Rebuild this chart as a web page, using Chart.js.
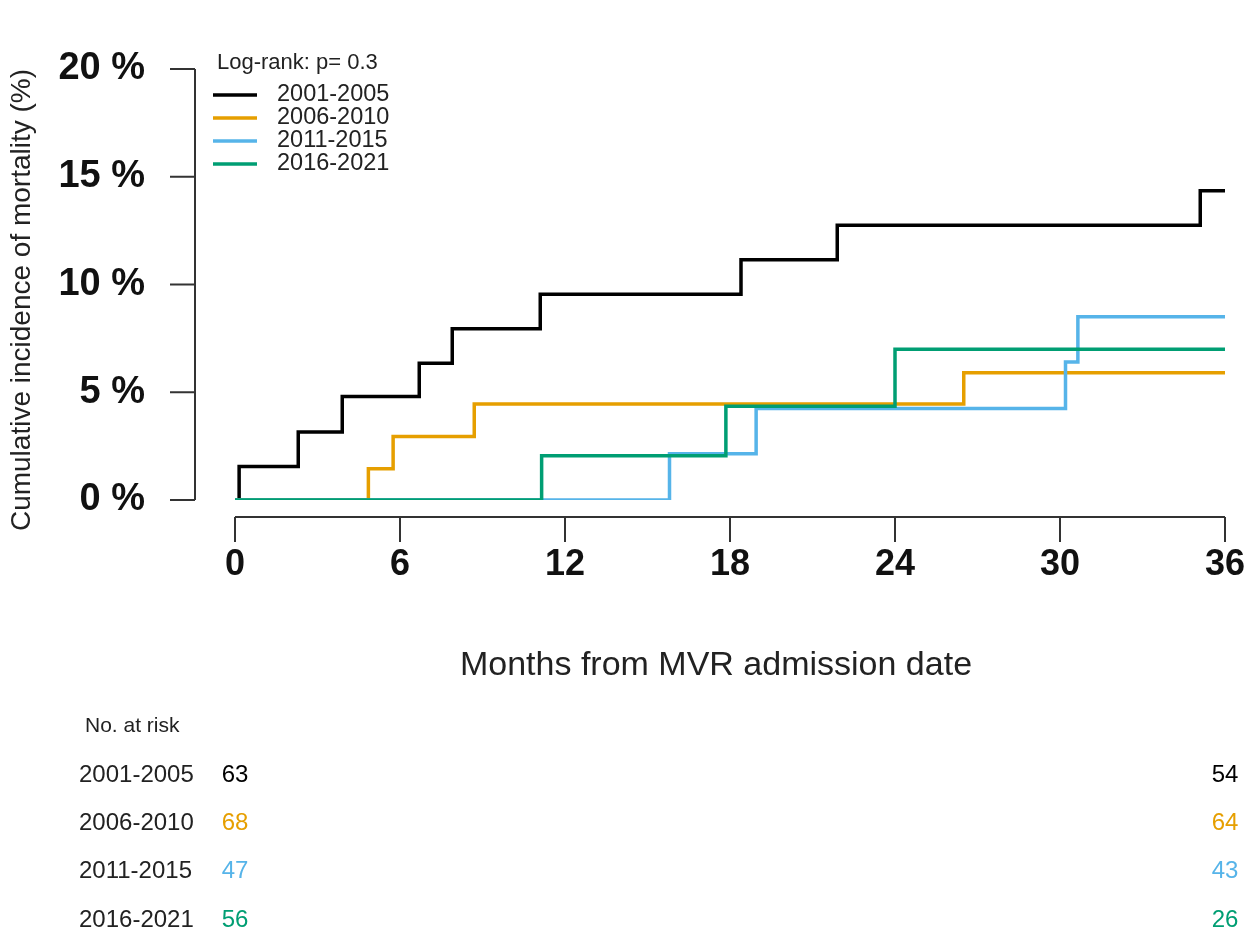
<!DOCTYPE html>
<html>
<head>
<meta charset="utf-8">
<script src="https://cdn.jsdelivr.net/npm/chart.js@4/dist/chart.umd.min.js"></script>
<style>
  html, body { margin: 0; padding: 0; background: #fff; }
  #wrap { width: 1250px; height: 932px; }
</style>
</head>
<body>
<div id="wrap"><canvas id="km"></canvas></div>
<script>
// step times (months) and cumulative incidence (%)
const groups = ["2001-2005", "2006-2010", "2011-2015", "2016-2021"];
const colors = ["#000000", "#E69F00", "#56B4E9", "#009E73"];

const time2001 = [0, 0.15, 2.3, 3.9, 6.7, 7.9, 11.1, 18.4, 21.9, 35.1, 36];
const inc2001 = [0, 1.55, 3.15, 4.8, 6.35, 7.95, 9.55, 11.15, 12.75, 14.35, 14.35];
const time2006 = [0, 4.85, 5.75, 8.7, 26.5, 36];
const inc2006 = [0, 1.45, 2.95, 4.45, 5.9, 5.9];
const time2011 = [0, 15.8, 18.95, 30.2, 30.65, 36];
const inc2011 = [0, 2.15, 4.25, 6.4, 8.5, 8.5];
const time2016 = [0, 11.15, 17.85, 24.0, 36];
const inc2016 = [0, 2.05, 4.35, 7.0, 7.0];

const xTicks = [0, 6, 12, 18, 24, 30, 36];
const yTicks = [0, 5, 10, 15, 20];

const riskStart = [63, 68, 47, 56];
const riskEnd = [54, 64, 43, 26];

const FONT = "'Liberation Sans', Arial, Helvetica, sans-serif";

function toPoints(times, values) {
  return times.map((t, i) => ({ x: t, y: values[i] }));
}

const allTimes = [time2001, time2006, time2011, time2016];
const allInc = [inc2001, inc2006, inc2011, inc2016];

const datasets = groups.map((g, i) => ({
  label: g,
  data: toPoints(allTimes[i], allInc[i]),
  borderColor: colors[i],
  borderWidth: 3.5,
  stepped: "before",
  pointRadius: 0,
  fill: false,
  order: groups.length - i,
}));

// R-style detached axes, titles, inset legend and risk table
const decorations = {
  id: "decorations",
  afterDraw(chart) {
    const ctx = chart.ctx;
    const xs = chart.scales.x;
    const ys = chart.scales.y;
    const area = chart.chartArea;
    ctx.save();
    ctx.strokeStyle = "#333";
    ctx.lineWidth = 2;
    ctx.lineCap = "butt";

    // y axis
    const axX = area.left - 40;
    ctx.beginPath();
    ctx.moveTo(axX, ys.getPixelForValue(0));
    ctx.lineTo(axX, ys.getPixelForValue(20));
    yTicks.forEach((v) => {
      const py = ys.getPixelForValue(v);
      ctx.moveTo(axX, py);
      ctx.lineTo(axX - 25, py);
    });
    ctx.stroke();

    // x axis
    const axY = area.bottom + 17;
    ctx.beginPath();
    ctx.moveTo(xs.getPixelForValue(0), axY);
    ctx.lineTo(xs.getPixelForValue(36), axY);
    xTicks.forEach((v) => {
      const px = xs.getPixelForValue(v);
      ctx.moveTo(px, axY);
      ctx.lineTo(px, axY + 25);
    });
    ctx.stroke();

    // axis titles
    ctx.fillStyle = "#222";
    ctx.textAlign = "center";
    ctx.textBaseline = "middle";
    ctx.font = `28px ${FONT}`;
    ctx.save();
    ctx.translate(22, 300);
    ctx.rotate(-Math.PI / 2);
    ctx.fillText("Cumulative incidence of mortality (%)", 0, 0);
    ctx.restore();
    ctx.font = `34px ${FONT}`;
    ctx.fillText("Months from MVR admission date", 716, 666);

    // legend
    ctx.textAlign = "left";
    ctx.font = `22px ${FONT}`;
    ctx.fillStyle = "#222";
    ctx.fillText("Log-rank: p= 0.3", 217, 63);
    ctx.font = `23.5px ${FONT}`;
    const legY = [95, 118, 141, 164];
    groups.forEach((g, i) => {
      ctx.strokeStyle = colors[i];
      ctx.lineWidth = 3.5;
      ctx.beginPath();
      ctx.moveTo(213, legY[i]);
      ctx.lineTo(257, legY[i]);
      ctx.stroke();
      ctx.fillStyle = "#222";
      ctx.fillText(g, 277, legY[i]);
    });

    // number at risk
    ctx.font = `21px ${FONT}`;
    ctx.fillStyle = "#222";
    ctx.fillText("No. at risk", 85, 726);
    const rowY = [775, 823, 871, 920];
    ctx.font = `24px ${FONT}`;
    groups.forEach((g, i) => {
      ctx.textAlign = "left";
      ctx.fillStyle = "#222";
      ctx.fillText(g, 79, rowY[i]);
      ctx.textAlign = "center";
      ctx.fillStyle = colors[i];
      ctx.fillText(String(riskStart[i]), xs.getPixelForValue(0), rowY[i]);
      ctx.fillText(String(riskEnd[i]), xs.getPixelForValue(36), rowY[i]);
    });
    ctx.restore();
  },
};

new Chart(document.getElementById("km"), {
  type: "line",
  data: { datasets },
  options: {
    responsive: true,
    maintainAspectRatio: false,
    animation: false,
    layout: { padding: { top: 69, right: 25, left: 0, bottom: 0 } },
    plugins: { legend: { display: false }, tooltip: { enabled: false } },
    scales: {
      x: {
        type: "linear",
        min: 0,
        max: 36,
        afterFit: (s) => { s.height = 432; s.paddingLeft = 0; s.paddingRight = 0; },
        afterBuildTicks: (s) => { s.ticks = xTicks.map((v) => ({ value: v })); },
        grid: { display: false, drawTicks: false },
        border: { display: false },
        ticks: {
          padding: 43,
          color: "#111",
          font: { family: FONT, size: 36, weight: "bold" },
          maxRotation: 0,
        },
      },
      y: {
        type: "linear",
        min: 0,
        max: 20,
        afterFit: (s) => { s.width = 235; s.paddingTop = 0; s.paddingBottom = 0; },
        afterBuildTicks: (s) => { s.ticks = yTicks.map((v) => ({ value: v })); },
        grid: { display: false, drawTicks: false },
        border: { display: false },
        ticks: {
          padding: 90,
          color: "#111",
          font: { family: FONT, size: 38, weight: "bold" },
          callback: (v) => `${v} %`,
        },
      },
    },
  },
  plugins: [decorations],
});
</script>
</body>
</html>
